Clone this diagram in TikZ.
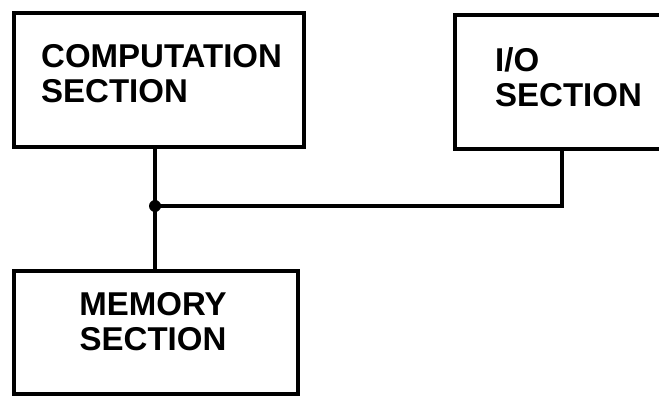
\documentclass[tikz,border=0pt]{standalone}
\usepackage{fontspec}
\setmainfont{Liberation Sans}
\begin{document}
\begin{tikzpicture}[x=1pt,y=-1pt,
  box/.style={draw=black,line width=3.8pt,rectangle,inner sep=0pt,anchor=north west},
  lbl/.style={anchor=base west,inner sep=0pt,font=\fontsize{33}{35}\selectfont\bfseries,align=left},
  wire/.style={draw=black,line width=3.4pt}]
\clip (0,0) rectangle (659,401);
\fill[white] (0,0) rectangle (659,401);
\node[box,minimum width=290pt,minimum height=134pt] (comp) at (12,11) {};
\node[box,minimum width=230pt,minimum height=134pt] (io) at (453,13) {};
\node[box,minimum width=284pt,minimum height=123pt] (mem) at (12,269) {};
\node[lbl] (compt) at (41,103) {COMPUTATION\\SECTION};
\node[lbl] (iot) at (495,107) {I/O\\SECTION};
\node[lbl,anchor=base,align=center] (memt) at (153,350) {MEMORY\\SECTION};
\coordinate (j) at (155,206);
\coordinate (iob) at (562,147);
\draw[wire] (comp.south -| j) -- (j) -- (mem.north -| j);
\draw[wire] (j) -- (iob |- j) -- (iob);
\fill (j) circle (6pt);
\end{tikzpicture}
\end{document}
